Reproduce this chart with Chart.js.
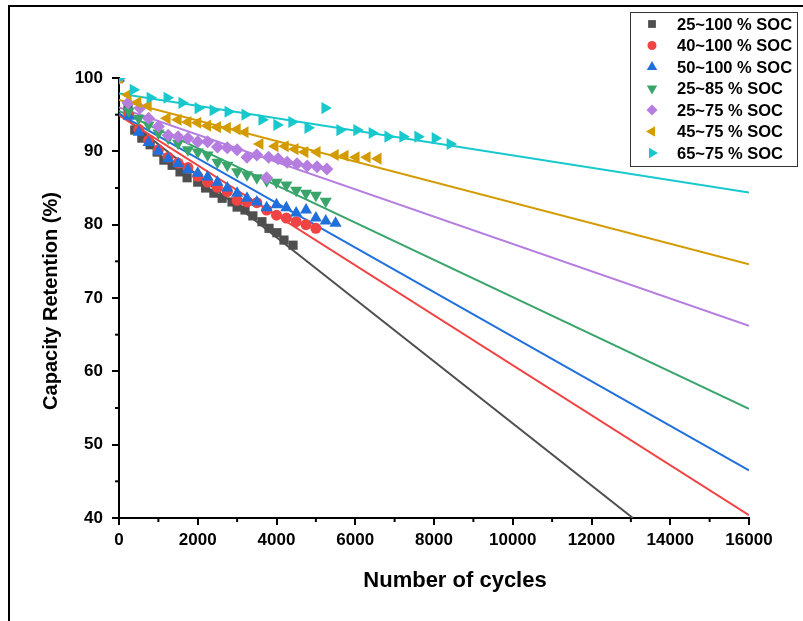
<!DOCTYPE html>
<html lang="en">
<head>
  <meta charset="UTF-8">
  <title>Capacity Retention vs Cycles</title>
  <script src="https://cdn.jsdelivr.net/npm/chart.js"></script>
  <style>
    body {
      margin: 0;
      background: #ffffff;
    }
    .wrap {
      position: relative;
      width: 803px;
      height: 621px;
    }
    .frame {
      position: absolute;
      left: 8px;
      top: 5px;
      width: 800px;
      height: 620px;
      border-top: 2px solid #000;
      border-left: 2px solid #000;
      pointer-events: none;
    }
  </style>
</head>
<body>

<div class="wrap">
  <canvas id="chart" width="803" height="621"></canvas>
  <div class="frame"></div>
</div>

<script>
  // series labels
  const seriesLabels = ['25~100 % SOC', '40~100 % SOC', '50~100 % SOC', '25~85 % SOC',
                        '25~75 % SOC', '45~75 % SOC', '65~75 % SOC'];

  // measured points (cycles, capacity retention %)
  const cyc25_100 = [0, 230, 400, 580, 790, 970, 1140, 1350, 1550, 1730, 2000, 2200, 2410, 2620, 2870, 3000, 3200, 3400, 3630, 3810, 4010, 4190, 4420];
  const ret25_100 = [100, 96.0, 92.9, 91.8, 90.9, 89.9, 88.8, 88.1, 87.2, 86.4, 85.8, 85.0, 84.3, 83.6, 83.1, 82.4, 82.0, 81.2, 80.4, 79.5, 78.9, 77.9, 77.2];

  const cyc40_100 = [0, 250, 500, 750, 1000, 1250, 1500, 1750, 2000, 2250, 2500, 2750, 3000, 3250, 3500, 3750, 4000, 4250, 4500, 4750, 5000];
  const ret40_100 = [100, 95.0, 93.0, 91.5, 90.2, 89.2, 88.4, 87.8, 86.6, 85.8, 85.1, 84.5, 83.3, 83.1, 83.0, 82.0, 81.3, 80.9, 80.4, 80.0, 79.5];

  const cyc50_100 = [0, 250, 500, 750, 1000, 1250, 1500, 1750, 2000, 2250, 2500, 2750, 3000, 3250, 3500, 3750, 4000, 4250, 4500, 4750, 5000, 5250, 5500];
  const ret50_100 = [100, 94.8, 92.6, 91.2, 90.0, 89.0, 88.3, 87.5, 87.0, 86.5, 85.8, 85.0, 84.3, 83.6, 83.1, 82.3, 82.7, 82.3, 81.6, 82.0, 80.9, 80.5, 80.2];

  const cyc25_85 = [0, 250, 500, 750, 1000, 1250, 1500, 1750, 2000, 2250, 2500, 2750, 3000, 3250, 3500, 3750, 4000, 4250, 4500, 4750, 5000, 5250];
  const ret25_85 = [100, 95.5, 94.5, 93.6, 92.5, 91.8, 91.1, 90.2, 89.9, 89.5, 88.5, 88.1, 87.2, 86.8, 86.4, 86.0, 85.8, 85.4, 84.7, 84.3, 84.0, 83.2];

  const cyc25_75 = [0, 230, 530, 750, 1000, 1250, 1500, 1750, 2000, 2250, 2500, 2750, 3000, 3250, 3500, 3750, 3800, 4040, 4270, 4520, 4780, 5030, 5280];
  const ret25_75 = [100, 96.6, 95.9, 94.5, 93.4, 92.2, 92.0, 91.8, 91.3, 91.3, 90.6, 90.5, 90.2, 89.2, 89.5, 86.4, 89.2, 89.0, 88.5, 88.3, 88.0, 87.9, 87.6];

  const cyc45_75 = [0, 230, 480, 740, 1220, 1500, 1750, 2000, 2250, 2500, 2750, 3000, 3200, 3580, 3960, 4220, 4470, 4720, 5030, 5490, 5740, 6020, 6300, 6580];
  const ret45_75 = [100, 97.7, 96.7, 96.2, 94.5, 94.3, 94.0, 93.9, 93.5, 93.3, 93.2, 93.0, 92.6, 91.0, 90.7, 90.7, 90.3, 89.9, 89.9, 89.5, 89.4, 89.2, 89.2, 89.0];

  const cyc65_75 = [0, 360, 790, 1220, 1600, 2010, 2390, 2770, 3200, 3630, 4010, 4390, 4800, 5230, 5610, 6040, 6430, 6830, 7210, 7590, 8030, 8410];
  const ret65_75 = [100, 98.4, 97.3, 97.3, 96.6, 95.9, 95.6, 95.4, 95.0, 94.3, 93.6, 94.0, 93.2, 95.9, 92.9, 92.9, 92.5, 92.0, 92.0, 92.0, 91.8, 91.0];

  // linear fit lines: start/end cycles and retention
  const fitCycles = [[0, 13050], [0, 16000], [0, 16000], [0, 16000], [0, 16000], [0, 16000], [0, 16000]];
  const fitRet = [[95.2, 40], [94.9, 40.4], [95.1, 46.5], [95.5, 54.9], [96.0, 66.2], [97.0, 74.6], [97.9, 84.4]];

  // axis ticks
  const xMin = 0, xMax = 16000, xStep = 2000;
  const yMin = 40, yMax = 100, yStep = 10;

  const allCycles = [cyc25_100, cyc40_100, cyc50_100, cyc25_85, cyc25_75, cyc45_75, cyc65_75];
  const allRet = [ret25_100, ret40_100, ret50_100, ret25_85, ret25_75, ret45_75, ret65_75];

  const colors = ['#4f4f4f', '#f04343', '#1f6fdd', '#3aa56b', '#b47ddf', '#d39b00', '#17c8cc'];
  const styles = [
    { pointStyle: 'rect', rotation: 0, radius: 6.5 },
    { pointStyle: 'circle', rotation: 0, radius: 5.5 },
    { pointStyle: 'triangle', rotation: 0, radius: 7 },
    { pointStyle: 'triangle', rotation: 180, radius: 7 },
    { pointStyle: 'rectRot', rotation: 0, radius: 6.5 },
    { pointStyle: 'triangle', rotation: -90, radius: 7 },
    { pointStyle: 'triangle', rotation: 90, radius: 7 }
  ];

  const datasets = [];
  seriesLabels.forEach((label, i) => {
    datasets.push({
      label: label,
      data: allCycles[i].map((c, k) => ({ x: c, y: allRet[i][k] })),
      showLine: false,
      pointStyle: styles[i].pointStyle,
      rotation: styles[i].rotation,
      pointRadius: styles[i].radius,
      backgroundColor: colors[i],
      borderColor: colors[i],
      borderWidth: 0,
      order: 6 - i
    });
  });
  seriesLabels.forEach((label, i) => {
    datasets.push({
      label: label + ' fit',
      data: fitCycles[i].map((c, k) => ({ x: c, y: fitRet[i][k] })),
      showLine: true,
      pointRadius: 0,
      borderColor: colors[i],
      borderWidth: 2,
      fill: false,
      order: 20 - i
    });
  });

  const fontFamily = "'Liberation Sans', Arial, sans-serif";

  // minor ticks, axis titles and the boxed legend
  const extras = {
    id: 'extras',
    afterDraw(chart) {
      const ctx = chart.ctx;
      const xs = chart.scales.x, ys = chart.scales.y;
      const area = chart.chartArea;
      ctx.save();
      ctx.strokeStyle = '#000';
      ctx.lineWidth = 2;
      for (let v = yMin + yStep / 2; v < yMax; v += yStep) {
        const py = ys.getPixelForValue(v);
        ctx.beginPath();
        ctx.moveTo(area.left, py);
        ctx.lineTo(area.left - 4, py);
        ctx.stroke();
      }
      for (let v = xMin + xStep / 2; v < xMax; v += xStep) {
        const px = xs.getPixelForValue(v);
        ctx.beginPath();
        ctx.moveTo(px, area.bottom);
        ctx.lineTo(px, area.bottom + 4);
        ctx.stroke();
      }

      // axis titles
      ctx.fillStyle = '#000';
      ctx.textAlign = 'center';
      ctx.textBaseline = 'middle';
      ctx.font = 'bold 22px ' + fontFamily;
      ctx.fillText('Number of cycles', 455, 581);
      ctx.save();
      ctx.translate(51, 301);
      ctx.rotate(-Math.PI / 2);
      ctx.font = 'bold 20px ' + fontFamily;
      ctx.fillText('Capacity Retention (%)', 0, 0);
      ctx.restore();

      // legend box
      ctx.lineWidth = 1;
      ctx.strokeStyle = '#333';
      ctx.strokeRect(630.5, 12.5, 167, 154);
      ctx.font = 'bold 16.5px ' + fontFamily;
      ctx.textAlign = 'left';
      seriesLabels.forEach((label, i) => {
        const y = 24 + i * 21.5;
        ctx.fillStyle = colors[i];
        ctx.strokeStyle = colors[i];
        Chart.helpers.drawPoint(ctx, {
          pointStyle: styles[i].pointStyle,
          rotation: styles[i].rotation,
          radius: styles[i].radius - 1,
          borderWidth: 0
        }, 652, y);
        ctx.fillStyle = '#000';
        ctx.fillText(label, 677, y + 1);
      });
      ctx.restore();
    }
  };

  new Chart(document.getElementById('chart'), {
    type: 'scatter',
    data: { datasets: datasets },
    options: {
      responsive: false,
      animation: false,
      devicePixelRatio: 1,
      layout: { padding: { top: 78, right: 54, bottom: 0, left: 0 } },
      plugins: {
        legend: { display: false },
        tooltip: { enabled: false }
      },
      scales: {
        x: {
          type: 'linear',
          min: xMin,
          max: xMax,
          afterFit(scale) { scale.height = 103; },
          ticks: {
            stepSize: xStep,
            color: '#000',
            padding: 5,
            maxRotation: 0,
            callback: (v) => String(v),
            font: { family: fontFamily, size: 17, weight: 'bold' }
          },
          grid: { drawOnChartArea: false, color: '#000', lineWidth: 2, tickLength: 7 },
          border: { color: '#000', width: 2 }
        },
        y: {
          type: 'linear',
          min: yMin,
          max: yMax,
          afterFit(scale) { scale.width = 119; },
          ticks: {
            stepSize: yStep,
            color: '#000',
            padding: 9,
            callback: (v) => String(v),
            font: { family: fontFamily, size: 17, weight: 'bold' }
          },
          grid: { drawOnChartArea: false, color: '#000', lineWidth: 2, tickLength: 7 },
          border: { color: '#000', width: 2 }
        }
      }
    },
    plugins: [extras]
  });
</script>

</body>
</html>
